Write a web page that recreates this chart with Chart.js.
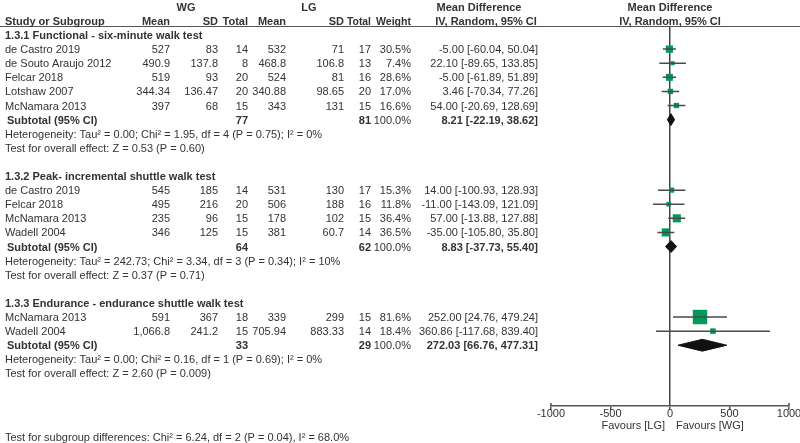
<!DOCTYPE html>
<html>
<head>
<meta charset="utf-8">
<script src="https://cdn.jsdelivr.net/npm/chart.js@4.4.1/dist/chart.umd.min.js"></script>
<style>
    html, body { margin: 0; padding: 0; background: #fff; }
    #wrap { width: 800px; height: 443px; }
</style>
</head>
<body>
<div id="wrap"><canvas id="forest" width="800" height="443"></canvas></div>
<script>
// ---- data ----
const subgroupNames = [
    '1.3.1 Functional - six-minute walk test',
    '1.3.2 Peak- incremental shuttle walk test',
    '1.3.3 Endurance - endurance shuttle walk test'
];
const studies = ['de Castro 2019', 'de Souto Araujo 2012', 'Felcar 2018', 'Lotshaw 2007', 'McNamara 2013',
                 'de Castro 2019', 'Felcar 2018', 'McNamara 2013', 'Wadell 2004',
                 'McNamara 2013', 'Wadell 2004'];
const subgroupOf = [0, 0, 0, 0, 0, 1, 1, 1, 1, 2, 2];
const wgMean  = ['527', '490.9', '519', '344.34', '397', '545', '495', '235', '346', '591', '1,066.8'];
const wgSD    = ['83', '137.8', '93', '136.47', '68', '185', '216', '96', '125', '367', '241.2'];
const wgTotal = [14, 8, 20, 20, 15, 14, 20, 15, 15, 18, 15];
const lgMean  = ['532', '468.8', '524', '340.88', '343', '531', '506', '178', '381', '339', '705.94'];
const lgSD    = ['71', '106.8', '81', '98.65', '131', '130', '188', '102', '60.7', '299', '883.33'];
const lgTotal = [17, 13, 16, 20, 15, 17, 16, 15, 14, 15, 14];
const weight  = [30.5, 7.4, 28.6, 17.0, 16.6, 15.3, 11.8, 36.4, 36.5, 81.6, 18.4];
const md      = [-5.00, 22.10, -5.00, 3.46, 54.00, 14.00, -11.00, 57.00, -35.00, 252.00, 360.86];
const ciLow   = [-60.04, -89.65, -61.89, -70.34, -20.69, -100.93, -143.09, -13.88, -105.80, 24.76, -117.68];
const ciHigh  = [50.04, 133.85, 51.89, 77.26, 128.69, 128.93, 121.09, 127.88, 35.80, 479.24, 839.40];

const subWgTotal = [77, 64, 33];
const subLgTotal = [81, 62, 29];
const subMd      = [8.21, 8.83, 272.03];
const subLow     = [-22.19, -37.73, 66.76];
const subHigh    = [38.62, 55.40, 477.31];
const heterogeneity = [
    'Heterogeneity: Tau\u00b2 = 0.00; Chi\u00b2 = 1.95, df = 4 (P = 0.75); I\u00b2 = 0%',
    'Heterogeneity: Tau\u00b2 = 242.73; Chi\u00b2 = 3.34, df = 3 (P = 0.34); I\u00b2 = 10%',
    'Heterogeneity: Tau\u00b2 = 0.00; Chi\u00b2 = 0.16, df = 1 (P = 0.69); I\u00b2 = 0%'
];
const overallEffect = [
    'Test for overall effect: Z = 0.53 (P = 0.60)',
    'Test for overall effect: Z = 0.37 (P = 0.71)',
    'Test for overall effect: Z = 2.60 (P = 0.009)'
];
const subgroupTest = 'Test for subgroup differences: Chi\u00b2 = 6.24, df = 2 (P = 0.04), I\u00b2 = 68.0%';
const axisTicks = [-1000, -500, 0, 500, 1000];
const favours = ['Favours [LG]', 'Favours [WG]'];

// ---- row layout (one row = one line of the table) ----
const studyRow = [];
const headerRow = [], subtotalRow = [], hetRow = [], effectRow = [];
let row = 0;
subgroupNames.forEach((name, g) => {
    headerRow.push(row++);
    studies.forEach((s, i) => { if (subgroupOf[i] === g) studyRow[i] = row++; });
    subtotalRow.push(row);
    hetRow.push(row + 1);
    effectRow.push(row + 2);
    row += 4;
});
const subgroupTestRow = effectRow[effectRow.length - 1] + 4.5;

const fmt2 = v => v.toFixed(2);
const ciText = (m, lo, hi) => `${fmt2(m)} [${fmt2(lo)}, ${fmt2(hi)}]`;

// whiskers as one broken line
const whiskerData = [];
studies.forEach((s, i) => {
    whiskerData.push({ x: ciLow[i], y: studyRow[i] }, { x: ciHigh[i], y: studyRow[i] }, { x: null, y: null });
});

const squareData = studies.map((s, i) => ({ x: md[i], y: studyRow[i] }));
const squareRadius = weight.map(w => (3 + 0.14 * w) / Math.SQRT2);

const DIAMOND_H = 0.42;
const diamondSets = subMd.map((m, g) => ({
    type: 'scatter',
    showLine: true,
    fill: 'shape',
    data: [
        { x: subLow[g], y: subtotalRow[g] },
        { x: m, y: subtotalRow[g] - DIAMOND_H },
        { x: subHigh[g], y: subtotalRow[g] },
        { x: m, y: subtotalRow[g] + DIAMOND_H },
        { x: subLow[g], y: subtotalRow[g] }
    ],
    backgroundColor: '#111',
    borderColor: '#111',
    borderWidth: 1,
    pointRadius: 0,
    tension: 0
}));

const TEXT = '#333';
const FONT = '"Liberation Sans", Arial, sans-serif';

const col = { study: 5, wgMean: 170, wgSD: 218, wgTotal: 248, lgMean: 286, lgSD: 344, lgTotal: 371, weight: 411, ci: 538 };

const tablePlugin = {
    id: 'forestTable',
    afterDraw(chart) {
        const ctx = chart.ctx;
        const ys = chart.scales.y;
        const xs = chart.scales.x;
        const area = chart.chartArea;
        const py = r => ys.getPixelForValue(r) + 1;
        const putPx = (txt, x, y, align, bold, maxW) => {
            ctx.font = (bold ? 'bold ' : '') + '11px ' + FONT;
            ctx.textAlign = align;
            if (maxW) ctx.fillText(String(txt), x, y, maxW);
            else ctx.fillText(String(txt), x, y);
        };
        const put = (txt, x, r, align, bold, maxW) => putPx(txt, x, py(r), align, bold, maxW);
        ctx.save();
        ctx.fillStyle = TEXT;
        ctx.textBaseline = 'middle';

        // header line
        ctx.strokeStyle = '#555';
        ctx.lineWidth = 1;
        ctx.beginPath();
        ctx.moveTo(0, area.top + 0.5);
        ctx.lineTo(800, area.top + 0.5);
        ctx.stroke();

        // end ticks of the axis reach above the line as well
        ctx.lineWidth = 1.5;
        [axisTicks[0], axisTicks[axisTicks.length - 1]].forEach(v => {
            const x = xs.getPixelForValue(v);
            ctx.beginPath();
            ctx.moveTo(x, area.bottom - 3);
            ctx.lineTo(x, area.bottom);
            ctx.stroke();
        });

        const zeroX = xs.getPixelForValue(0);
        put('WG', 186, -2, 'center', true);
        put('LG', 309, -2, 'center', true);
        put('Mean Difference', 479, -2, 'center', true);
        put('Mean Difference', zeroX, -2, 'center', true);
        put('Study or Subgroup', col.study, -1, 'left', true);
        put('Mean', col.wgMean, -1, 'right', true);
        put('SD', col.wgSD, -1, 'right', true);
        put('Total', col.wgTotal, -1, 'right', true);
        put('Mean', col.lgMean, -1, 'right', true);
        put('SD', col.lgSD, -1, 'right', true);
        put('Total', col.lgTotal, -1, 'right', true, 24);
        put('Weight', col.weight, -1, 'right', true, 35);
        put('IV, Random, 95% CI', 486, -1, 'center', true);
        put('IV, Random, 95% CI', zeroX, -1, 'center', true);

        subgroupNames.forEach((name, g) => put(name, col.study, headerRow[g], 'left', true));

        studies.forEach((s, i) => {
            const r = studyRow[i];
            put(s, col.study, r, 'left');
            put(wgMean[i], col.wgMean, r, 'right');
            put(wgSD[i], col.wgSD, r, 'right');
            put(wgTotal[i], col.wgTotal, r, 'right');
            put(lgMean[i], col.lgMean, r, 'right');
            put(lgSD[i], col.lgSD, r, 'right');
            put(lgTotal[i], col.lgTotal, r, 'right');
            put(weight[i].toFixed(1) + '%', col.weight, r, 'right');
            put(ciText(md[i], ciLow[i], ciHigh[i]), col.ci, r, 'right');
        });

        subMd.forEach((m, g) => {
            const r = subtotalRow[g];
            put('Subtotal (95% CI)', col.study + 2, r, 'left', true);
            put(subWgTotal[g], col.wgTotal, r, 'right', true);
            put(subLgTotal[g], col.lgTotal, r, 'right', true);
            put('100.0%', col.weight, r, 'right');
            put(ciText(m, subLow[g], subHigh[g]), col.ci, r, 'right', true);
            put(heterogeneity[g], col.study, hetRow[g], 'left');
            put(overallEffect[g], col.study, effectRow[g], 'left');
        });

        put(subgroupTest, col.study, subgroupTestRow, 'left');

        // favours labels under the axis
        putPx(favours[0], zeroX - 5, area.bottom + 20, 'right');
        putPx(favours[1], zeroX + 6, area.bottom + 20, 'left');
        ctx.restore();
    }
};

new Chart(document.getElementById('forest'), {
    type: 'scatter',
    data: {
        datasets: [
            {
                data: whiskerData,
                showLine: true,
                spanGaps: false,
                borderColor: '#4a4a4a',
                borderWidth: 1.5,
                pointRadius: 0
            },
            {
                data: squareData,
                pointStyle: 'rect',
                pointRadius: squareRadius,
                backgroundColor: '#00995a',
                borderColor: '#00995a',
                borderWidth: 0
            },
            ...diamondSets
        ]
    },
    options: {
        responsive: false,
        animation: false,
        events: [],
        layout: { padding: { left: 551, right: 11, top: 26, bottom: 0 } },
        plugins: { legend: { display: false }, tooltip: { enabled: false } },
        scales: {
            x: {
                type: 'linear',
                min: -1000,
                max: 1000,
                afterBuildTicks: s => { s.ticks = axisTicks.map(v => ({ value: v })); },
                afterFit: s => { s.height = 37; },
                grid: {
                    color: c => (c.tick && c.tick.value === 0 ? '#444' : 'rgba(0,0,0,0)'),
                    lineWidth: 1.5,
                    tickColor: '#555',
                    tickLength: 4
                },
                border: { display: true, color: '#555', width: 1.5 },
                ticks: {
                    color: TEXT,
                    padding: -3,
                    maxRotation: 0,
                    autoSkip: false,
                    callback: v => String(v),
                    font: { family: FONT, size: 11 }
                }
            },
            y: {
                type: 'linear',
                reverse: true,
                min: -0.64,
                max: 26.31,
                display: false
            }
        }
    },
    plugins: [tablePlugin]
});
</script>
</body>
</html>
